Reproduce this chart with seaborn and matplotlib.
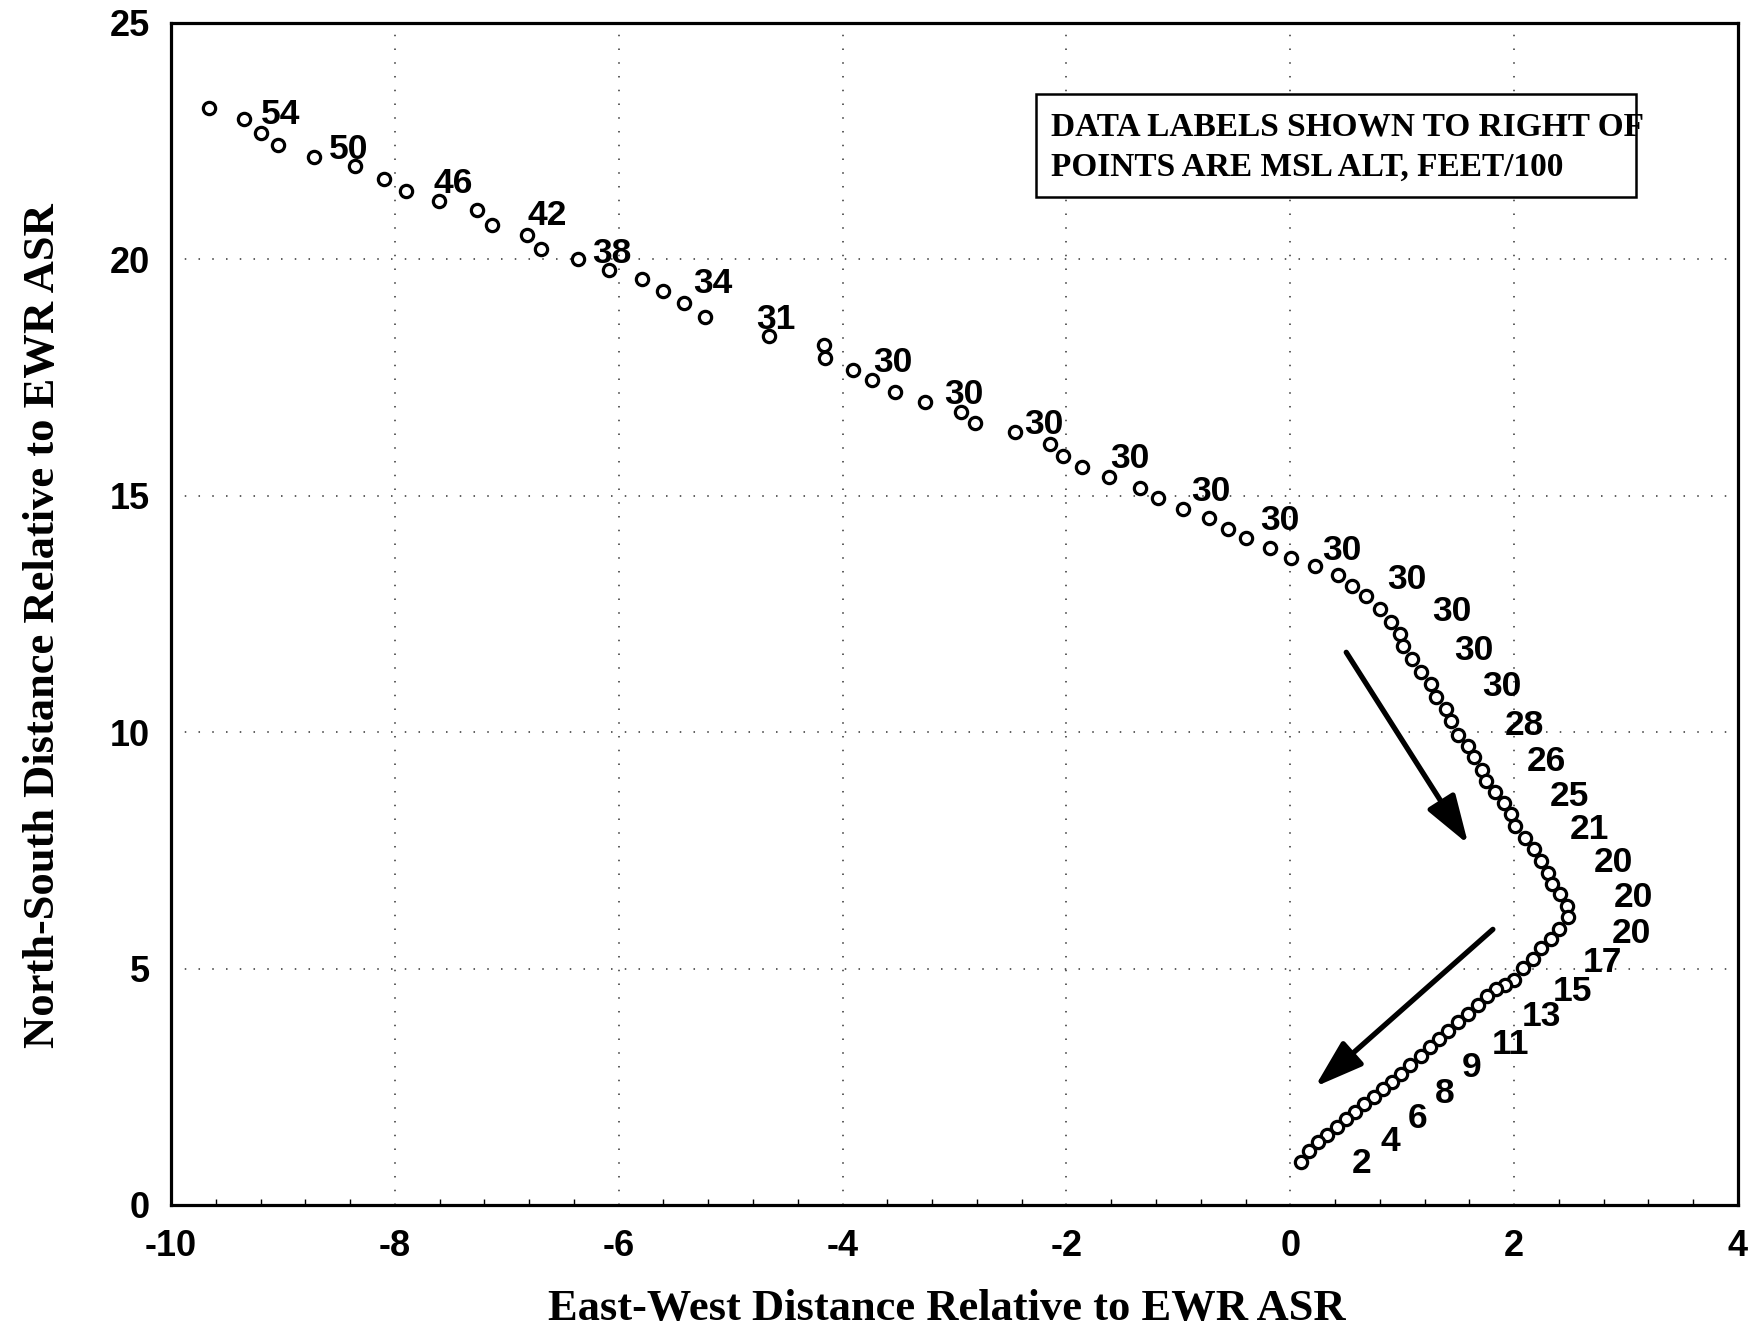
import matplotlib
matplotlib.use("Agg")
import matplotlib.pyplot as plt
from matplotlib.patches import Rectangle
from matplotlib.ticker import MultipleLocator
import pandas as pd
import seaborn as sns

# Radar track, nautical miles east/north of the EWR ASR
east_west = [
    -9.66, -9.35, -9.20, -9.04, -8.72, -8.36, -8.10, -7.90, -7.61, -7.27,
    -7.13, -6.82, -6.69, -6.36, -6.09, -5.79, -5.60, -5.42, -5.23, -4.66,
    -4.17, -4.16, -3.91, -3.74, -3.53, -3.26, -2.94, -2.82, -2.46, -2.15,
    -2.03, -1.86, -1.62, -1.34, -1.18, -0.96, -0.73, -0.56, -0.40, -0.18,
    0.01, 0.22, 0.43, 0.55, 0.68, 0.80, 0.90, 0.98, 1.01, 1.09,
    1.17, 1.26, 1.30, 1.39, 1.44, 1.50, 1.59, 1.64, 1.71, 1.75,
    1.83, 1.91, 1.97, 2.01, 2.10, 2.18, 2.24, 2.30, 2.34, 2.41,
    2.47, 2.48, 2.40, 2.33, 2.24, 2.17, 2.08, 2.00, 1.92, 1.84,
    1.76, 1.68, 1.59, 1.50, 1.41, 1.33, 1.25, 1.17, 1.07, 0.99,
    0.91, 0.83, 0.75, 0.66, 0.58, 0.50, 0.42, 0.33, 0.25, 0.17,
    0.10,
]
north_south = [
    23.20, 22.96, 22.67, 22.41, 22.17, 21.98, 21.71, 21.45, 21.24, 21.04,
    20.73, 20.52, 20.21, 20.01, 19.77, 19.58, 19.34, 19.08, 18.79, 18.37,
    18.19, 17.91, 17.67, 17.44, 17.20, 16.98, 16.77, 16.55, 16.34, 16.09,
    15.84, 15.60, 15.39, 15.17, 14.95, 14.73, 14.52, 14.29, 14.11, 13.89,
    13.68, 13.51, 13.32, 13.10, 12.88, 12.61, 12.33, 12.07, 11.82, 11.54,
    11.28, 11.01, 10.75, 10.50, 10.24, 9.95, 9.71, 9.48, 9.20, 8.96,
    8.73, 8.51, 8.26, 8.01, 7.76, 7.52, 7.27, 7.02, 6.78, 6.57,
    6.32, 6.09, 5.84, 5.62, 5.44, 5.21, 5.02, 4.76, 4.65, 4.57,
    4.43, 4.22, 4.04, 3.87, 3.69, 3.52, 3.34, 3.15, 2.96, 2.78,
    2.61, 2.45, 2.29, 2.13, 1.97, 1.81, 1.64, 1.49, 1.34, 1.14,
    0.92,
]

# Altitude tags (MSL feet / 100) and the spot each tag is centred on
label_alt = [54, 50, 46, 42, 38, 34, 31, 30, 30, 30, 30, 30, 30, 30, 30,
             30, 30, 30, 28, 26, 25, 21, 20, 20, 20, 17, 15, 13, 11, 9,
             8, 6, 4, 2]
label_x = [-9.02, -8.41, -7.48, -6.64, -6.06, -5.16, -4.60, -3.55, -2.92,
           -2.20, -1.43, -0.71, -0.09, 0.46, 1.04, 1.44, 1.64, 1.89, 2.09,
           2.29, 2.49, 2.67, 2.89, 3.07, 3.05, 2.79, 2.52, 2.24, 1.97,
           1.62, 1.38, 1.14, 0.89, 0.64]
label_y = [23.14, 22.40, 21.68, 21.01, 20.20, 19.57, 18.81, 17.90, 17.23,
           16.58, 15.86, 15.17, 14.55, 13.92, 13.30, 12.64, 11.81, 11.05,
           10.22, 9.46, 8.72, 8.01, 7.32, 6.59, 5.83, 5.20, 4.59, 4.07,
           3.48, 2.99, 2.43, 1.91, 1.42, 0.95]

# Direction-of-flight arrows (start, end) in chart units
arrow_paths = [((0.50, 11.69), (1.59, 7.63)),
               ((1.81, 5.83), (0.22, 2.50))]

x_ticks = [-10, -8, -6, -4, -2, 0, 2, 4]
y_ticks = [0, 5, 10, 15, 20, 25]

sns.set_theme(style="white")
plt.rcParams["font.family"] = ["Liberation Sans", "DejaVu Sans"]

W, H = 1755, 1330
fig = plt.figure(figsize=(W / 100, H / 100), dpi=100)
fig.patch.set_facecolor("white")
ax_l, ax_r, ax_t, ax_b = 171, 1738, 23, 1205
ax = fig.add_axes([ax_l / W, 1 - ax_b / H, (ax_r - ax_l) / W, (ax_b - ax_t) / H])
ax.set_facecolor("white")

track = pd.DataFrame({"ew": east_west, "ns": north_south})
sns.scatterplot(data=track, x="ew", y="ns", ax=ax, marker="o", s=78,
                color="white", edgecolor="black", linewidth=2.3, zorder=3,
                legend=False)

for alt, lx, ly in zip(label_alt, label_x, label_y):
    ax.annotate(str(alt), (lx, ly), xytext=(0, -9.5), textcoords="offset points",
                ha="center", va="baseline", fontsize=25.5, fontweight="bold",
                color="black", zorder=4)

for (x0, y0), (x1, y1) in arrow_paths:
    ax.annotate("", xy=(x1, y1), xytext=(x0, y0),
                arrowprops=dict(arrowstyle="-|>,head_length=1.1,head_width=0.36",
                                lw=3.8, color="black", mutation_scale=27,
                                shrinkA=0, shrinkB=0), zorder=4)

ax.set_xlim(-10, 4)
ax.set_ylim(0, 25)
ax.set_xticks(x_ticks)
ax.set_yticks(y_ticks)
ax.set_xticklabels([str(v) for v in x_ticks])
ax.set_yticklabels([str(v) for v in y_ticks])
ax.xaxis.set_minor_locator(MultipleLocator(0.4))
ax.tick_params(axis="both", which="major", direction="in", length=7, width=1.3,
               labelsize=26, color="black", labelcolor="black")
ax.tick_params(axis="x", which="major", pad=17)
ax.tick_params(axis="y", which="major", pad=15, left=True, length=0)
ax.tick_params(axis="x", which="minor", direction="in", length=4, width=1.0,
               bottom=True, color="black")
for lbl in ax.get_xticklabels() + ax.get_yticklabels():
    lbl.set_fontweight("bold")

ax.grid(True, which="major", linestyle=(0, (1, 8)), color="black",
        linewidth=1.1, alpha=0.8)
for side in ["left", "right", "top", "bottom"]:
    ax.spines[side].set_visible(True)
    ax.spines[side].set_color("black")
    ax.spines[side].set_linewidth(2.3)

serif = ["Liberation Serif", "DejaVu Serif"]
ax.set_xlabel("East-West Distance Relative to EWR ASR", fontsize=32,
              fontweight="bold", family=serif, color="black")
ax.set_ylabel("North-South Distance Relative to EWR ASR", fontsize=32,
              fontweight="bold", family=serif, color="black")
ax.xaxis.label.set_va("baseline")
ax.xaxis.set_label_coords(0.495, (ax_b - 1320) / (ax_b - ax_t))
ax.yaxis.label.set_va("baseline")
ax.yaxis.set_label_coords((54 - ax_l) / (ax_r - ax_l), 0.49)

# Note box explaining the altitude tags
bx0 = (1036 - ax_l) / (ax_r - ax_l)
bx1 = (1636 - ax_l) / (ax_r - ax_l)
by0 = (ax_b - 197) / (ax_b - ax_t)
by1 = (ax_b - 94) / (ax_b - ax_t)
ax.add_patch(Rectangle((bx0, by0), bx1 - bx0, by1 - by0, transform=ax.transAxes,
                       facecolor="white", edgecolor="black", linewidth=1.8,
                       zorder=5))
tx = (1051 - ax_l) / (ax_r - ax_l)
ax.text(tx, (ax_b - 136) / (ax_b - ax_t), "DATA LABELS SHOWN TO RIGHT OF",
        transform=ax.transAxes, ha="left", va="baseline", fontsize=24,
        fontweight="bold", family=serif, color="black", zorder=6)
ax.text(tx, (ax_b - 176) / (ax_b - ax_t), "POINTS ARE MSL ALT, FEET/100",
        transform=ax.transAxes, ha="left", va="baseline", fontsize=24,
        fontweight="bold", family=serif, color="black", zorder=6)

fig.savefig("out.png", dpi=100, facecolor="white")
